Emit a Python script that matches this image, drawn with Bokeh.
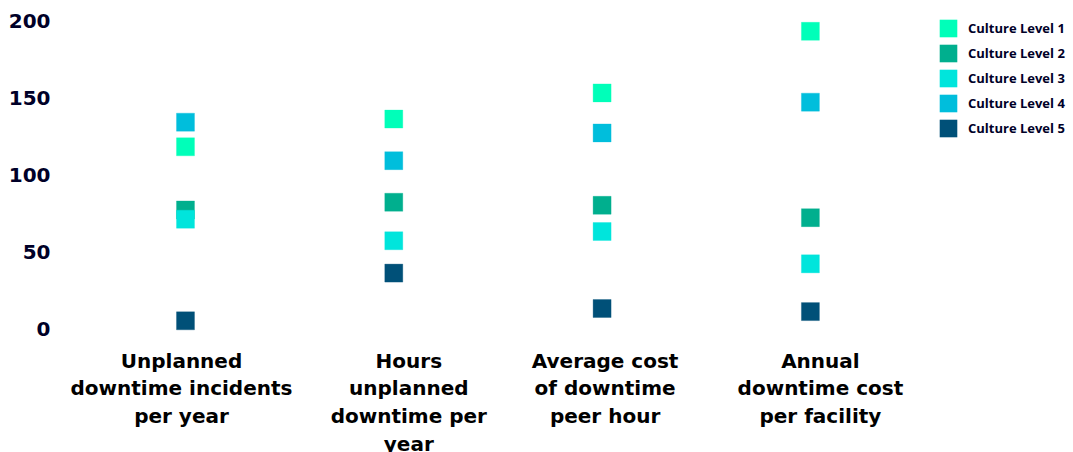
from bokeh.plotting import figure
from bokeh.models import FixedTicker, Range1d, ColumnDataSource, Legend, LegendItem
from bokeh.core.properties import value
from bokeh.embed import file_html
from bokeh.resources import INLINE

categories = ["Unplanned\ndowntime incidents\nper year",
              "Hours\nunplanned\ndowntime per\nyear",
              "Average cost\nof downtime\npeer hour",
              "Annual\ndowntime cost\nper facility"]
level_names = ["Culture Level 1", "Culture Level 2", "Culture Level 3",
               "Culture Level 4", "Culture Level 5"]
level1 = [118, 136, 153, 193]
level2 = [77, 82, 80, 72]
level3 = [71, 57, 63, 42]
level4 = [134, 109, 127, 147]
level5 = [5, 36, 13, 11]
series = [level1, level2, level3, level4, level5]
colors = ["#00FFB9", "#00AF8E", "#00E5DC", "#00BEDC", "#005078"]
yticks = [0, 50, 100, 150, 200]

TXT = "#000028"
FONT = "DejaVu Sans"

p = figure(width=1073, height=452, output_backend="svg", toolbar_location=None,
           min_border_left=60, min_border_right=0, min_border_top=0, min_border_bottom=0,
           x_range=Range1d(-0.6, 4.263), y_range=Range1d(-80.5, 213))
p.outline_line_color = None
p.background_fill_color = "white"
p.border_fill_color = "white"
p.xgrid.visible = False
p.ygrid.visible = False
p.xaxis.visible = False

xs = list(range(len(categories)))
items = []
for name, vals, col in zip(level_names, series, colors):
    src = ColumnDataSource(dict(x=xs, y=vals))
    p.scatter("x", "y", source=src, marker="square", size=18, fill_color=col,
              line_color=col, line_alpha=0.3)
    # zero-area swatch renderer used only for the legend's square key
    sw = p.quad(left=[0], right=[0], top=[0], bottom=[0], fill_color=col,
                line_color=None)
    items.append(LegendItem(label=name, renderers=[sw]))

label_src = ColumnDataSource(dict(x=xs, y=[-13] * len(xs), text=categories,
                                  dx=[-4, 15, 3, 10]))
p.text(x="x", y="y", text="text", x_offset="dx", source=label_src,
       text_align="center", text_baseline="top",
       text_font=value(FONT), text_font_style="bold", text_font_size="20px",
       text_color="#000000", text_line_height=1.16)

ax = p.yaxis[0]
ax.ticker = FixedTicker(ticks=yticks)
ax.axis_line_color = None
ax.major_tick_line_color = None
ax.minor_tick_line_color = None
ax.major_label_text_font = FONT
ax.major_label_text_font_style = "bold"
ax.major_label_text_font_size = "20px"
ax.major_label_text_color = TXT
ax.major_label_standoff = 4

lg = Legend(items=items, location=(877, 313))
lg.border_line_color = None
lg.background_fill_alpha = 0
lg.padding = 0
lg.margin = 0
lg.spacing = 3
lg.glyph_width = 22
lg.glyph_height = 22
lg.label_height = 22
lg.label_standoff = 9
lg.label_text_font = "Open Sans"
lg.label_text_font_style = "bold"
lg.label_text_font_size = "13px"
lg.label_text_color = TXT
p.add_layout(lg, "center")

open("out.html", "w").write(file_html(p, INLINE))
